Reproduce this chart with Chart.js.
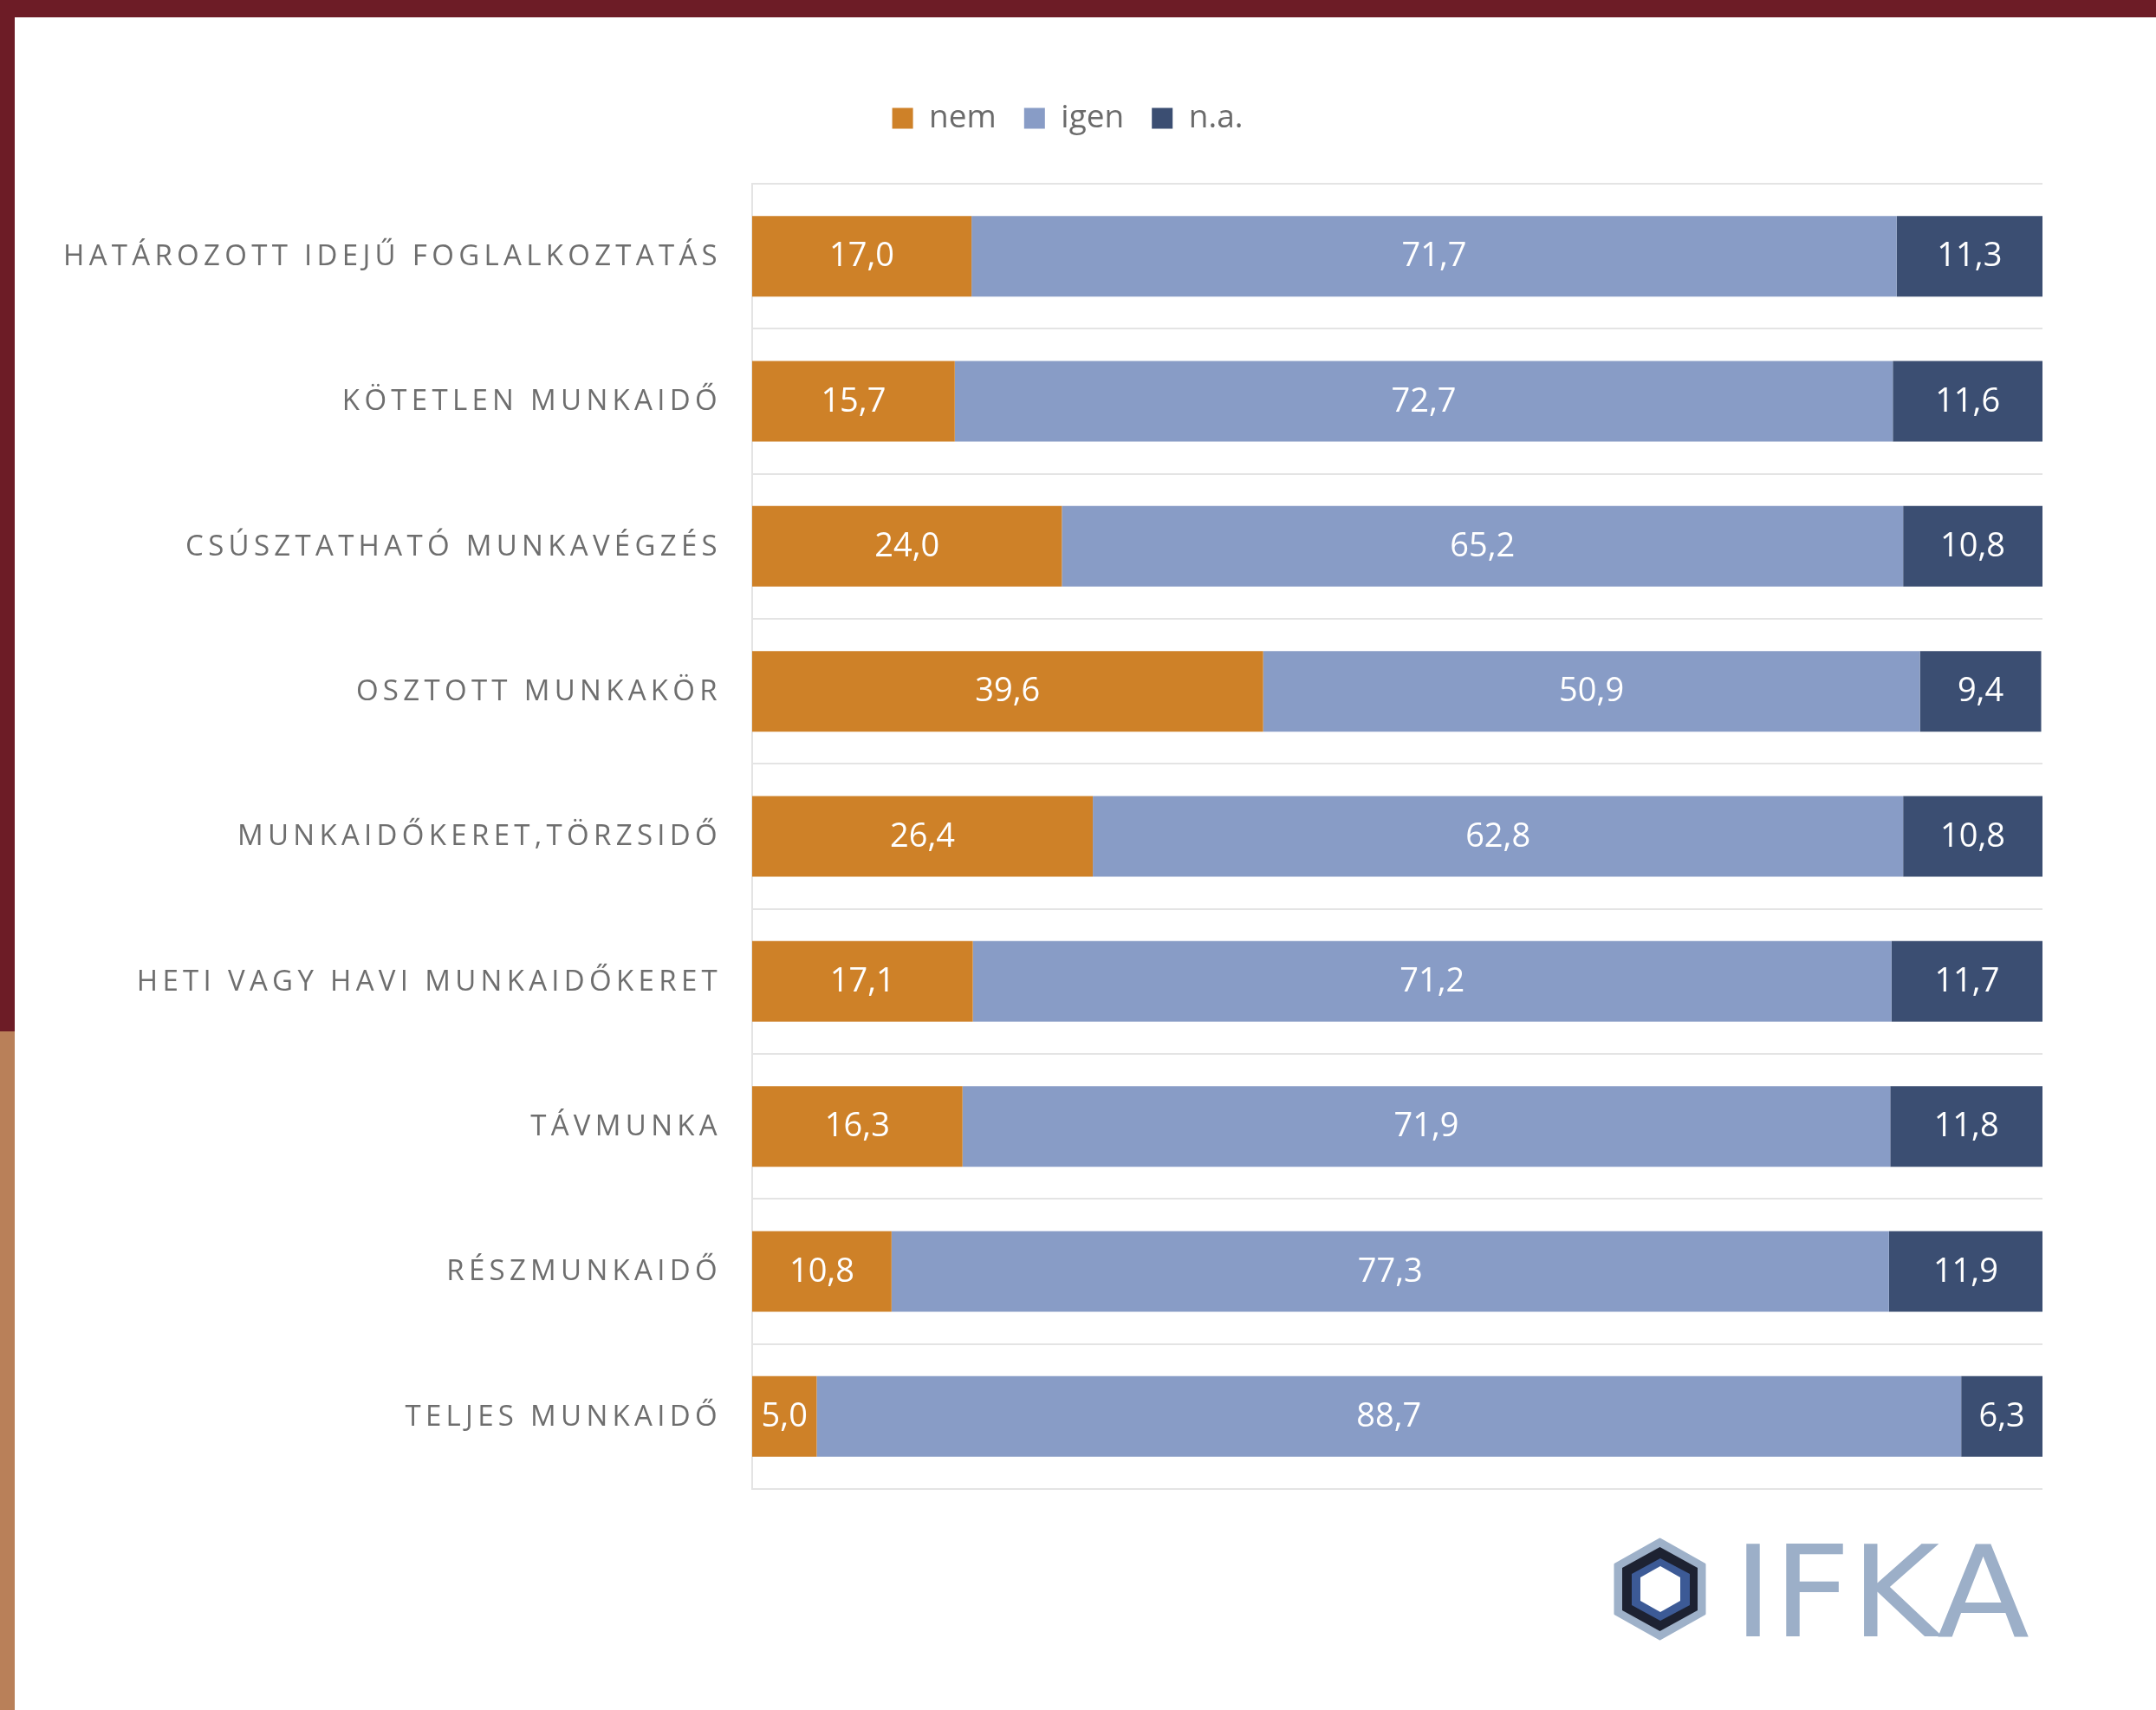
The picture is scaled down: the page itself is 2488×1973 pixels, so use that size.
<!DOCTYPE html>
<html lang="hu">
<head>
<meta charset="utf-8">
<title>Rugalmas foglalkoztatási formák</title>
<script src="https://cdn.jsdelivr.net/npm/chart.js@4.4.1/dist/chart.umd.min.js"></script>
<style>
  html, body { margin: 0; padding: 0; background: #fff; }
  #wrap { position: relative; width: 2488px; height: 1973px; overflow: hidden; background: #fff; }
  #chart { position: absolute; left: 0; top: 0; }
  #logo { position: absolute; left: 0; top: 0; pointer-events: none; }
  .frame-top { position: absolute; left: 0; top: 0; width: 2488px; height: 20px; background: #6d1c26; }
  .frame-left { position: absolute; left: 0; top: 0; width: 17px; height: 1190px; background: #6d1c26; }
  .frame-left-low { position: absolute; left: 0; top: 1190px; width: 17px; height: 783px; background: #b98059; }
</style>
</head>
<body>
<div id="wrap">
  <canvas id="chart" width="2488" height="1973"></canvas>
  <svg id="logo" width="2488" height="1973" viewBox="0 0 2488 1973">
    <g stroke-linejoin="round">
      <polygon points="1915.5,1776 1967,1805 1967,1862 1915.5,1891 1864,1862 1864,1805" fill="#9eb1c9" stroke="#9eb1c9" stroke-width="3"/>
      <polygon points="1915.5,1785 1959,1809 1959,1858 1915.5,1882 1872,1858 1872,1809" fill="#1d2232"/>
      <polygon points="1916,1798 1950,1816 1950,1852 1916,1870 1883,1852 1883,1816" fill="#3c5a96"/>
      <polygon points="1916,1807 1939,1820 1939,1847 1916,1860 1893,1847 1893,1820" fill="#ffffff"/>
    </g>
    <text x="2000" y="1888" font-family="DejaVu Sans, sans-serif" font-size="147" fill="#9cafc8"
          textLength="342" lengthAdjust="spacingAndGlyphs">IFKA</text>
  </svg>
  <div class="frame-top"></div>
  <div class="frame-left"></div>
  <div class="frame-left-low"></div>
</div>
<script>
const categories = [
  "HATÁROZOTT IDEJŰ FOGLALKOZTATÁS",
  "KÖTETLEN MUNKAIDŐ",
  "CSÚSZTATHATÓ MUNKAVÉGZÉS",
  "OSZTOTT MUNKAKÖR",
  "MUNKAIDŐKERET,TÖRZSIDŐ",
  "HETI VAGY HAVI MUNKAIDŐKERET",
  "TÁVMUNKA",
  "RÉSZMUNKAIDŐ",
  "TELJES MUNKAIDŐ"
];
const seriesNames = ["nem", "igen", "n.a."];
const nemValues  = [17.0, 15.7, 24.0, 39.6, 26.4, 17.1, 16.3, 10.8, 5.0];
const igenValues = [71.7, 72.7, 65.2, 50.9, 62.8, 71.2, 71.9, 77.3, 88.7];
const naValues   = [11.3, 11.6, 10.8, 9.4, 10.8, 11.7, 11.8, 11.9, 6.3];

const seriesColors = ["#ce8128", "#889cc6", "#3b4e72"];
const fontFamily = "'Open Sans', sans-serif";

Chart.defaults.font.family = fontFamily;

const fmt = (v) => v.toFixed(1).replace(".", ",");

// white value labels centred inside each segment
const valueLabels = {
  id: "valueLabels",
  afterDatasetsDraw(chart) {
    const ctx = chart.ctx;
    ctx.save();
    ctx.letterSpacing = "0px";
    ctx.font = "38px " + fontFamily;
    ctx.fillStyle = "#ffffff";
    ctx.textAlign = "center";
    ctx.textBaseline = "middle";
    chart.data.datasets.forEach((ds, di) => {
      const meta = chart.getDatasetMeta(di);
      meta.data.forEach((bar, i) => {
        const cx = (bar.x + bar.base) / 2;
        ctx.fillText(fmt(ds.data[i]), cx, bar.y + 1);
      });
    });
    ctx.restore();
  }
};

// spaced-out category names to the left of the plot
const categoryLabels = {
  id: "categoryLabels",
  afterDraw(chart) {
    const ctx = chart.ctx;
    const yScale = chart.scales.y;
    ctx.save();
    ctx.font = "33px " + fontFamily;
    ctx.letterSpacing = "5.3px";
    ctx.fillStyle = "#6e6e6e";
    ctx.textAlign = "right";
    ctx.textBaseline = "middle";
    categories.forEach((name, i) => {
      ctx.fillText(name, chart.chartArea.left - 35, yScale.getPixelForValue(i) + 1);
    });
    ctx.restore();
  }
};

new Chart(document.getElementById("chart"), {
  type: "bar",
  data: {
    labels: categories,
    datasets: [
      { label: seriesNames[0], data: nemValues, backgroundColor: seriesColors[0] },
      { label: seriesNames[1], data: igenValues, backgroundColor: seriesColors[1] },
      { label: seriesNames[2], data: naValues, backgroundColor: seriesColors[2] }
    ]
  },
  options: {
    indexAxis: "y",
    responsive: false,
    animation: false,
    devicePixelRatio: 1,
    layout: { padding: { top: 86, left: 107, right: 131, bottom: 255 } },
    datasets: {
      bar: { categoryPercentage: 1, barPercentage: 0.556, borderWidth: 0 }
    },
    scales: {
      x: {
        position: "top",
        stacked: true,
        min: 0,
        max: 100,
        ticks: { display: false },
        grid: { display: false },
        border: { display: false },
        afterFit(scale) { scale.height = 47; }
      },
      y: {
        stacked: true,
        ticks: { display: false },
        grid: { color: "#e4e4e4", lineWidth: 2, drawTicks: false, offset: true },
        border: { color: "#e4e4e4", width: 2 },
        afterFit(scale) { scale.width = 761; }
      }
    },
    plugins: {
      tooltip: { enabled: false },
      legend: {
        position: "top",
        labels: {
          font: { size: 37, family: fontFamily },
          color: "#6b6b6b",
          boxWidth: 24,
          boxHeight: 24,
          padding: 32
        }
      }
    }
  },
  plugins: [valueLabels, categoryLabels]
});
</script>
</body>
</html>
